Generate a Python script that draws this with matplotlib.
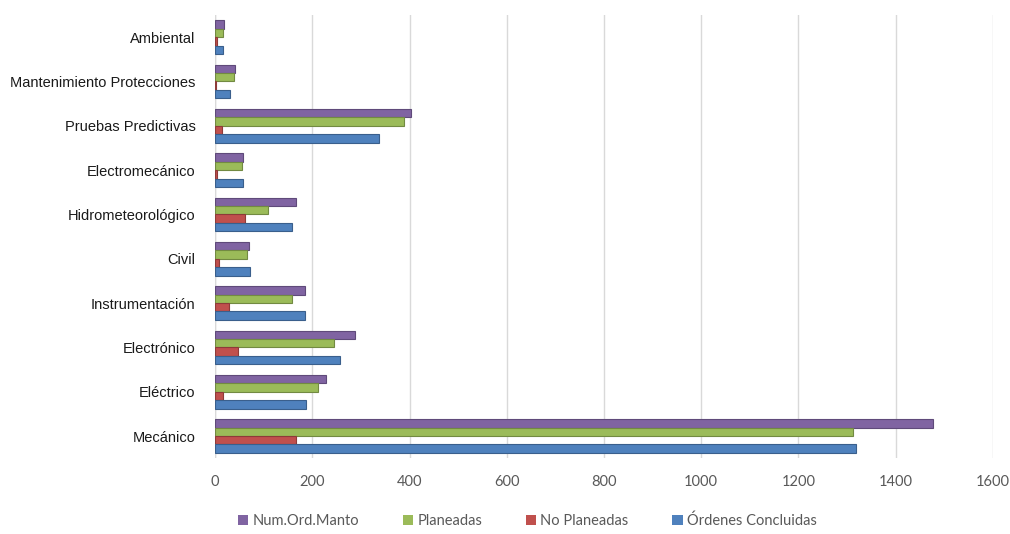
import numpy as np
import matplotlib.pyplot as plt
from matplotlib.patches import Patch

# Órdenes de mantenimiento por especialidad
categorias = ["Mecánico", "Eléctrico", "Electrónico", "Instrumentación", "Civil",
              "Hidrometeorológico", "Electromecánico", "Pruebas Predictivas",
              "Mantenimiento Protecciones", "Ambiental"]
num_ord_manto = [1476, 229, 288, 184, 70, 166, 57, 402, 41, 18]
planeadas = [1313, 211, 245, 158, 65, 109, 56, 388, 39, 17]
no_planeadas = [166, 17, 47, 28, 8, 61, 4, 14, 2, 3]
ordenes_concluidas = [1319, 186, 257, 184, 72, 158, 57, 337, 31, 16]

series = ["Num.Ord.Manto", "Planeadas", "No Planeadas", "Órdenes Concluidas"]
colores = ["#8064A2", "#9BBB59", "#C0504D", "#4F81BD"]
bordes = ["#5F4A7A", "#728A42", "#8E3B39", "#3A5F8C"]

fig = plt.figure(figsize=(10.1, 5.34), dpi=100)
ax = fig.add_axes([0.213, 0.142, 0.770, 0.83])

y = np.arange(len(categorias))
h = 0.19
datos = [num_ord_manto, planeadas, no_planeadas, ordenes_concluidas]
offsets = [1.5 * h, 0.5 * h, -0.5 * h, -1.5 * h]
for vals, off, c, b in zip(datos, offsets, colores, bordes):
    ax.barh(y + off, vals, height=h, color=c, edgecolor=b, linewidth=0.8, zorder=3)

ax.set_xlim(0, 1600)
ax.set_ylim(-0.5, len(categorias) - 0.5)
ax.set_xticks(range(0, 1601, 200))
ax.set_yticks(y)
ax.set_yticklabels(categorias, family=["Liberation Sans Narrow", "Liberation Sans", "DejaVu Sans"],
                   fontsize=10.5, color="#1a1a1a")
for lbl in ax.get_xticklabels():
    lbl.set_family(["Lato", "DejaVu Sans"])
    lbl.set_fontsize(10.5)
    lbl.set_color("#595959")

ax.grid(axis="x", color="#D9D9D9", linewidth=1, zorder=0)
ax.tick_params(axis="both", length=0)
ax.tick_params(axis="y", pad=14)
ax.tick_params(axis="x", pad=12)
for s in ax.spines.values():
    s.set_visible(False)
ax.axvline(0, color="#D9D9D9", linewidth=1, zorder=1)

handles = [Patch(facecolor=c, edgecolor="none") for c in colores]
fig.legend(handles, series, loc="center", bbox_to_anchor=(0.522, 0.025), ncol=4,
           frameon=False, handlelength=0.7, handleheight=0.7, handletextpad=0.3,
           columnspacing=3.0, prop={"family": ["Lato", "DejaVu Sans"], "size": 10.5},
           labelcolor="#595959")

fig.savefig("out.png", dpi=100, facecolor="white")
